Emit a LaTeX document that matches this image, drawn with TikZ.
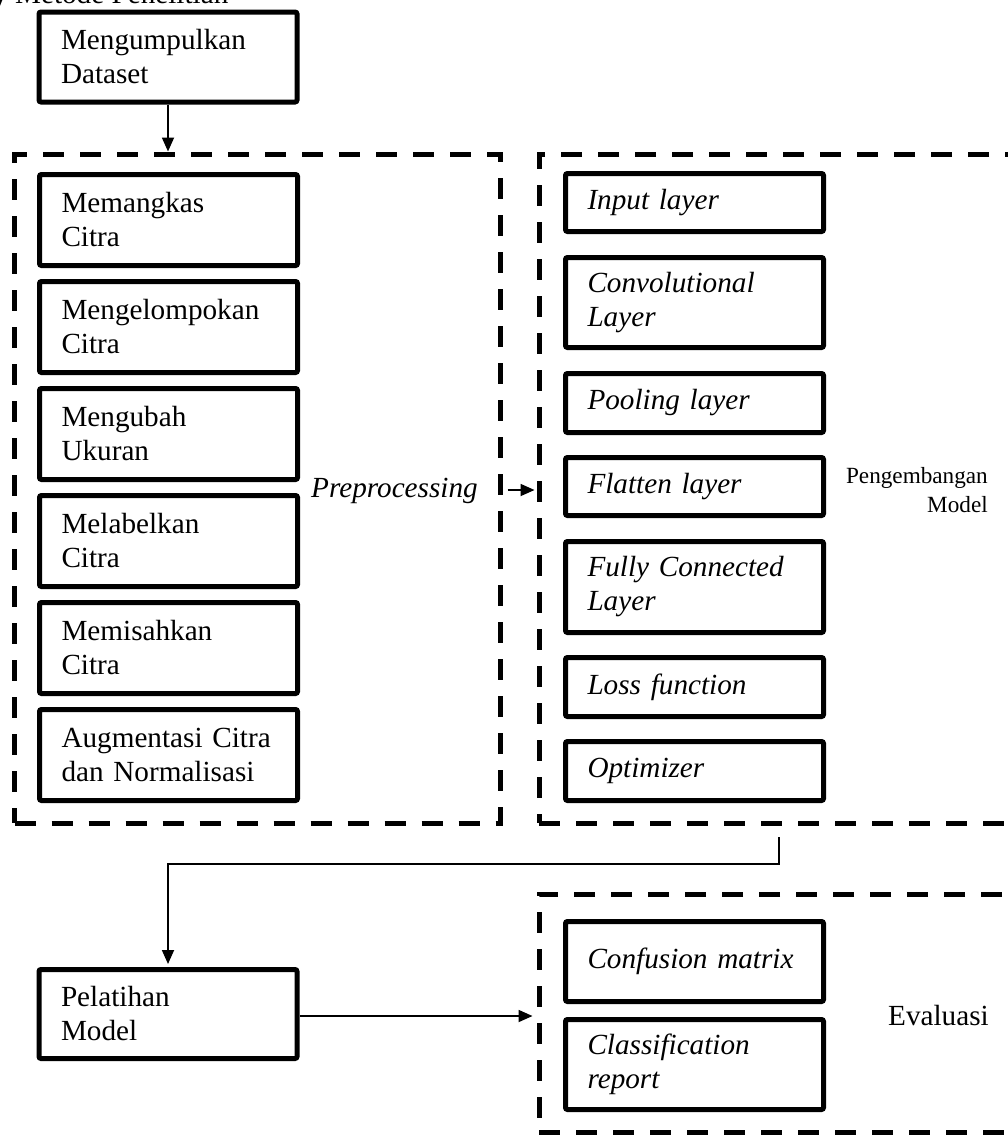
\documentclass[tikz,border=0pt]{standalone}
\usepackage{fontspec}
\setmainfont{Liberation Serif}
\usetikzlibrary{arrows.meta,calc}
\newcommand\mainsz{\fontsize{29.2pt}{34pt}\selectfont}
\newcommand\smallsz{\fontsize{23.2pt}{29pt}\selectfont}
\begin{document}
\begin{tikzpicture}[x=1pt,y=-1pt,
  box/.style={draw, line width=5pt, rounded corners=2pt, minimum width=258pt,
    text width=214pt, inner xsep=22pt, inner ysep=0pt, align=left, font=\mainsz},
  ibox/.style={box, font=\mainsz\itshape},
  dbox/.style={draw, line width=5pt, dash pattern=on 21pt off 16pt, inner sep=0pt},
  arr/.style={-{Triangle[length=14pt,width=12pt]}, line width=1.8pt},
  lbl/.style={inner sep=0pt}]
\useasboundingbox (0,0) rectangle (1008,1135);
\fill[white] (0,0) rectangle (1008,1135);

% caption (clipped at top of page)
\node[lbl, anchor=base west, font=\mainsz] (cap) at (-7,4) {y Metode Penelitian};

% top box
\node[box, minimum height=90pt] (dataset) at (168,57) {Mengumpulkan\\Dataset};

% dashed groups
\node[dbox, minimum width=485.5pt, minimum height=669pt] (pre) at (257.25,488.5) {};
\node[dbox, minimum width=501pt, minimum height=669pt] (dev) at (789.5,488.5) {};
\node[dbox, minimum width=501pt, minimum height=238pt] (eval) at (789.5,1013) {};

% preprocessing boxes
\node[box, minimum height=91pt] (crop) at (168.5,220) {Memangkas\\Citra};
\node[box, minimum height=91pt] (group) at (168.5,327) {Mengelompokan\\Citra};
\node[box, minimum height=91pt] (resize) at (168.5,434) {Mengubah\\Ukuran};
\node[box, minimum height=91pt] (label) at (168.5,541) {Melabelkan\\Citra};
\node[box, minimum height=91pt] (split) at (168.5,648) {Memisahkan\\Citra};
\node[box, minimum height=91pt] (aug) at (168.5,755) {Augmentasi Citra\\dan Normalisasi};

\node[lbl, anchor=base west, font=\mainsz\itshape] (prep) at (311,497) {Preprocessing};

% model development boxes
\node[ibox, minimum height=58pt] (input) at (694.5,202.5) {Input layer};
\node[ibox, minimum height=90pt] (conv) at (694.5,302.5) {Convolutional\\Layer};
\node[ibox, minimum height=59pt] (pool) at (694.5,403) {Pooling layer};
\node[ibox, minimum height=58pt] (flat) at (694.5,486.5) {Flatten layer};
\node[ibox, minimum height=91pt] (fc) at (694.5,587) {Fully Connected\\Layer};
\node[ibox, minimum height=59pt] (loss) at (694.5,687) {Loss function};
\node[ibox, minimum height=59pt] (opt) at (694.5,771) {Optimizer};

\node[lbl, anchor=east, align=right, font=\smallsz] (pm) at (988,490) {Pengembangan\\Model};

% training and evaluation
\node[box, minimum height=89pt] (pel) at (168,1014) {Pelatihan\\Model};
\node[ibox, minimum height=80pt] (conf) at (694.5,961.5) {Confusion matrix};
\node[ibox, minimum height=90pt] (cls) at (694.5,1064.5) {Classification\\report};
\node[lbl, anchor=base west, font=\mainsz] (ev) at (888,1025) {Evaluasi};

% connectors
\draw[arr] (dataset.south) -- (dataset.south |- pre.north);
\draw[arr, shorten >=2pt] ([xshift=5pt,yshift=-3.5pt]pre.east |- flat.west) -- ([yshift=-3.5pt]dev.west |- flat.west);
\coordinate (c1) at (779,837);
\coordinate (c2) at (779,864);
\draw[arr, shorten >=3pt] (c1) -- (c2) -| (pel.north);
\draw[arr, shorten >=4pt] ([yshift=-2pt]pel.east) -- ([yshift=-2pt]eval.west |- pel.east);
\end{tikzpicture}
\end{document}
